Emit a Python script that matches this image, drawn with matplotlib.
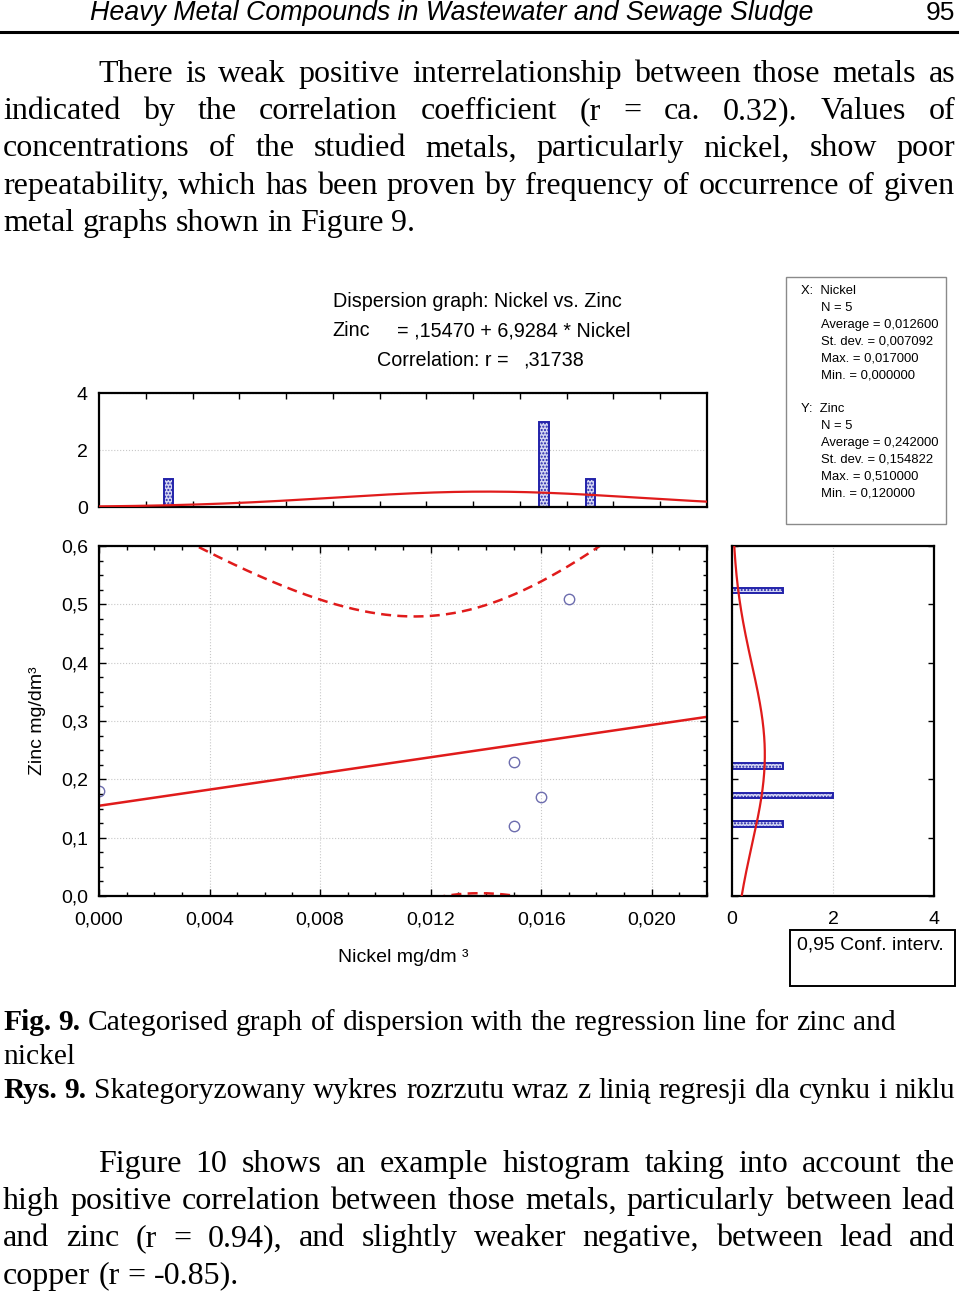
import matplotlib
matplotlib.use('Agg')
import matplotlib.pyplot as plt
import numpy as np
from matplotlib.patches import Rectangle
from matplotlib.lines import Line2D
from matplotlib.ticker import FixedLocator, MultipleLocator, FuncFormatter

# dane z wykresu
nickel = [0.000, 0.015, 0.016, 0.015, 0.017]
zinc = [0.18, 0.23, 0.17, 0.12, 0.51]

nickel_bins = [0.0025, 0.0161, 0.0178]
nickel_counts = [1, 3, 1]
zinc_bins = [0.524, 0.223, 0.172, 0.123]
zinc_counts = [1, 1, 2, 1]

# parametry krzywych normalnych (srodek, odchylenie, wysokosc)
nickel_curve = (0.014, 0.0055, 0.54)
zinc_curve = (0.242, 0.1548, 0.65)
t_crit = 3.182  # t(0.975; 3)

SANS = 'Liberation Sans'
SERIF = 'Liberation Serif'
RED = '#e01b1b'
BLUE = '#2222aa'

W, H = 960, 1295
fig = plt.figure(figsize=(9.6, 12.95), dpi=100)
renderer = fig.canvas.get_renderer()


def fx(px):
    return px / W


def fy(py):
    return 1 - py / H


def rect(l, t, r, b):
    return [l / W, 1 - b / H, (r - l) / W, (b - t) / H]


def text_width(s, **kw):
    t = fig.text(0, 0, s, **kw)
    w = t.get_window_extent(renderer).width
    t.remove()
    return w


def word_styles(words, size, bold_words):
    return [dict(family=SERIF, size=size, weight='bold' if i < bold_words else 'normal')
            for i in range(len(words))]


def natural_width(text, size, bold_words=0):
    words = text.split()
    kws = word_styles(words, size, bold_words)
    space = text_width('a a', family=SERIF, size=size) - text_width('aa', family=SERIF, size=size)
    return sum(text_width(w, **k) for w, k in zip(words, kws)) + space * (len(words) - 1)


def put_line(text, x0, base, x1=None, size=23, bold_words=0):
    words = text.split()
    kws = word_styles(words, size, bold_words)
    widths = [text_width(w, **k) for w, k in zip(words, kws)]
    space = text_width('a a', family=SERIF, size=size) - text_width('aa', family=SERIF, size=size)
    if x1 is None:
        gap = space
    else:
        gap = (x1 - x0 - sum(widths)) / (len(words) - 1)
    x = x0
    for w, k, wd in zip(words, kws, widths):
        fig.text(fx(x), fy(base), w, ha='left', va='baseline', **k)
        x += wd + gap


# naglowek strony
fig.text(fx(452), fy(20), 'Heavy Metal Compounds in Wastewater and Sewage Sludge',
         family=SANS, style='italic', size=19.3, ha='center', va='baseline')
fig.text(fx(955), fy(20), '95', family=SANS, size=19, ha='right', va='baseline')
fig.add_artist(Line2D([0, fx(957)], [fy(32), fy(32)], color='black', lw=2.2,
                      transform=fig.transFigure))

# akapit 1
para1 = ['There is weak positive interrelationship between those metals as',
         'indicated by the correlation coefficient (r = ca. 0.32). Values of',
         'concentrations of the studied metals, particularly nickel, show poor',
         'repeatability, which has been proven by frequency of occurrence of given',
         'metal graphs shown in Figure 9.']
for i, line in enumerate(para1):
    x0 = 98 if i == 0 else 3
    x1 = None if i == len(para1) - 1 else 955
    put_line(line, x0, 82 + i * 37.2, x1)

# podpis
cap1 = 'Fig. 9. Categorised graph of dispersion with the regression line for zinc and'
cap_size = 23 * 894 / natural_width(cap1, 23, 2)
put_line(cap1, 3, 1030, None, size=cap_size, bold_words=2)
put_line('nickel', 3, 1064, size=cap_size)
put_line('Rys. 9. Skategoryzowany wykres rozrzutu wraz z linią regresji dla cynku i niklu',
         3, 1098, 955, size=cap_size, bold_words=2)

# akapit 2
para2 = ['Figure 10 shows an example histogram taking into account the',
         'high positive correlation between those metals, particularly between lead',
         'and zinc (r = 0.94), and slightly weaker negative, between lead and',
         'copper (r = -0.85).']
for i, line in enumerate(para2):
    x0 = 98 if i == 0 else 3
    x1 = None if i == len(para2) - 1 else 955
    put_line(line, x0, 1172 + i * 37.2, x1)

# --- wykres ---
comma = FuncFormatter(lambda v, p: f'{v:.3f}'.replace('.', ','))
comma1 = FuncFormatter(lambda v, p: f'{v:.1f}'.replace('.', ','))


def frame(ax):
    for s in ax.spines.values():
        s.set_linewidth(1.6)
    ax.tick_params(which='both', direction='in', labelsize=14, width=1)
    for lab in ax.get_xticklabels() + ax.get_yticklabels():
        lab.set_family(SANS)


ax_top = fig.add_axes(rect(99, 393, 707, 507))
ax_main = fig.add_axes(rect(99, 546, 707, 896))
ax_right = fig.add_axes(rect(732, 546, 934, 896))

# regresja i przedzial ufnosci
x = np.array(nickel)
y = np.array(zinc)
n = len(x)
slope, intercept = np.polyfit(x, y, 1)
resid = y - (intercept + slope * x)
s = np.sqrt(np.sum(resid ** 2) / (n - 2))
sxx = np.sum((x - x.mean()) ** 2)
xs = np.linspace(0, 0.022, 400)
yhat = intercept + slope * xs
half = t_crit * s * np.sqrt(1 / n + (xs - x.mean()) ** 2 / sxx)

ax_main.grid(True, which='major', color='#c8c8c8', ls=':', lw=0.8)
ax_main.plot(xs, yhat, color=RED, lw=1.8)
ax_main.plot(xs, yhat + half, color=RED, lw=1.8, ls=(0, (4, 2.5)))
ax_main.plot(xs, yhat - half, color=RED, lw=1.8, ls=(0, (4, 2.5)))
ax_main.plot(nickel, zinc, 'o', mfc='none', mec='#6d6dae', mew=1, ms=7.5)
ax_main.set_xlim(0, 0.022)
ax_main.set_ylim(0, 0.6)
ax_main.xaxis.set_major_locator(MultipleLocator(0.004))
ax_main.xaxis.set_minor_locator(MultipleLocator(0.001))
ax_main.yaxis.set_major_locator(MultipleLocator(0.1))
ax_main.yaxis.set_minor_locator(MultipleLocator(0.025))
ax_main.xaxis.set_major_formatter(comma)
ax_main.yaxis.set_major_formatter(comma1)
ax_main.tick_params(which='both', top=True, right=True)
ax_main.tick_params(which='major', length=5)
ax_main.tick_params(which='minor', length=3)
ax_main.tick_params(axis='x', pad=11)
ax_main.tick_params(axis='y', pad=8)
frame(ax_main)

# histogram niklu
mu, sd, peak = nickel_curve
ax_top.grid(True, axis='y', color='#c8c8c8', ls=':', lw=0.8)
ax_top.bar(nickel_bins, nickel_counts, width=0.00033, facecolor='#d4d6f2',
           edgecolor=BLUE, lw=1.4, hatch='.....', zorder=2)
ax_top.plot(xs, peak * np.exp(-0.5 * ((xs - mu) / sd) ** 2), color=RED, lw=1.6, zorder=3)
ax_top.set_xlim(0, 0.022)
ax_top.set_ylim(0, 4)
ax_top.set_yticks([0, 2, 4])
ax_top.xaxis.set_major_locator(FixedLocator(np.arange(1, 13) * 0.022 / 13))
ax_top.set_xticklabels([])
ax_top.tick_params(axis='x', top=True, bottom=True, length=4)
ax_top.tick_params(axis='y', length=0, pad=8)
frame(ax_top)

# histogram cynku
mu, sd, peak = zinc_curve
ys = np.linspace(0, 0.6, 300)
ax_right.grid(True, axis='x', color='#c8c8c8', ls=':', lw=0.8)
ax_right.barh(zinc_bins, zinc_counts, height=0.0095, facecolor='#d4d6f2',
              edgecolor=BLUE, lw=1.4, hatch='.....', zorder=2)
ax_right.plot(peak * np.exp(-0.5 * ((ys - mu) / sd) ** 2), ys, color=RED, lw=1.6, zorder=3)
ax_right.set_xlim(0, 4)
ax_right.set_ylim(0, 0.6)
ax_right.set_xticks([0, 2, 4])
ax_right.yaxis.set_major_locator(MultipleLocator(0.1))
ax_right.set_yticklabels([])
ax_right.tick_params(axis='y', left=True, right=True, length=4)
ax_right.tick_params(axis='x', length=0, pad=11)
frame(ax_right)

# tytuly
fig.text(fx(477), fy(301), 'Dispersion graph: Nickel vs. Zinc', family=SANS, size=14.2,
         ha='center', va='center')
fig.text(fx(332), fy(331), 'Zinc', family=SANS, size=14.2, ha='left', va='center')
fig.text(fx(397), fy(331), '= ,15470 + 6,9284 * Nickel', family=SANS, size=14.2,
         ha='left', va='center')
fig.text(fx(377), fy(360), 'Correlation: r =', family=SANS, size=14.2, ha='left', va='center')
fig.text(fx(523), fy(360), ',31738', family=SANS, size=14.2, ha='left', va='center')

fig.text(fx(37), fy(721), 'Zinc mg/dm³', family=SANS, size=14, rotation=90,
         ha='center', va='center')
fig.text(fx(338), fy(958), 'Nickel mg/dm ³', family=SANS, size=14, ha='left', va='center')

# ramka statystyk
fig.add_artist(Rectangle((fx(786), fy(524)), (946 - 786) / W, (524 - 277) / H,
                         transform=fig.transFigure, fill=False, ec='#8a8a8a', lw=1))
stats_x = ['X:  Nickel', 'N = 5', 'Average = 0,012600', 'St. dev. = 0,007092',
           'Max. = 0,017000', 'Min. = 0,000000']
stats_y = ['Y:  Zinc', 'N = 5', 'Average = 0,242000', 'St. dev. = 0,154822',
           'Max. = 0,510000', 'Min. = 0,120000']
for block, top in ((stats_x, 291), (stats_y, 409)):
    for i, s_ in enumerate(block):
        fig.text(fx(801 if i == 0 else 821), fy(top + i * 16.9), s_, family=SANS,
                 size=9.4, ha='left', va='center')

# legenda
fig.add_artist(Rectangle((fx(790), fy(986)), (955 - 790) / W, (986 - 930) / H,
                         transform=fig.transFigure, fill=False, ec='black', lw=1.4))
fig.text(fx(797), fy(945), '0,95 Conf. interv.', family=SANS, size=14, ha='left', va='center')

fig.savefig('out.png', dpi=100)
